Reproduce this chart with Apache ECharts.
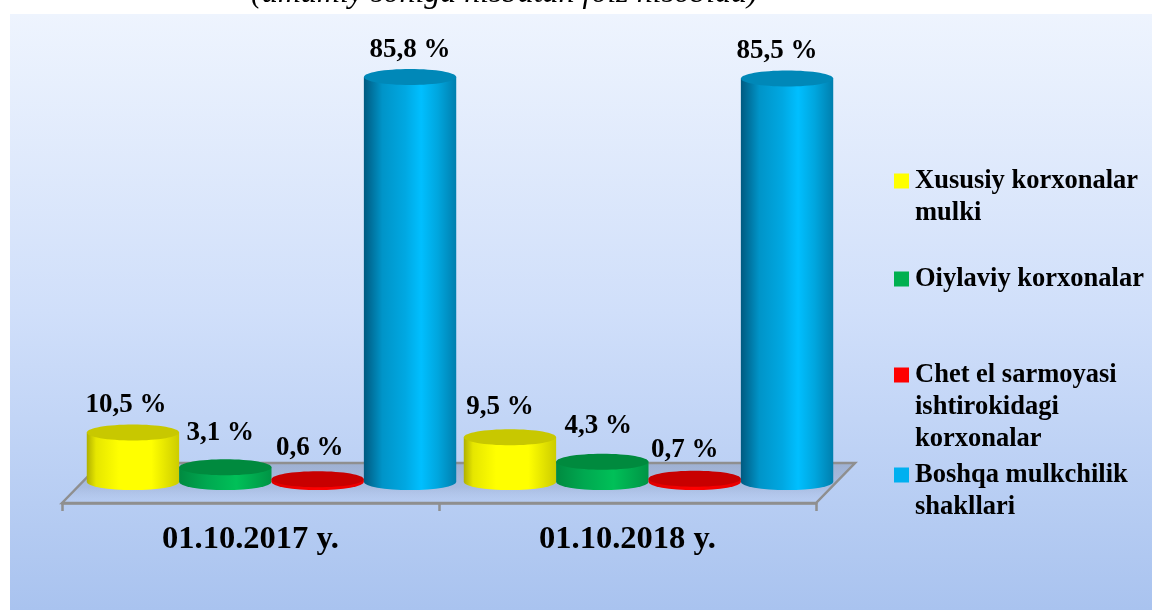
<!DOCTYPE html>
<html>
<head>
<meta charset="utf-8">
<style>
  html, body { margin: 0; background: #fff; }
  #chart { width: 1152px; height: 610px; }
</style>
<script src="https://cdn.jsdelivr.net/npm/echarts@6/dist/echarts.min.js"></script>
</head>
<body>
<div id="chart"></div>
<script>
const categories = ["01.10.2017 y.", "01.10.2018 y."];
const seriesNames = [
  "Xususiy korxonalar\nmulki",
  "Oiylaviy korxonalar",
  "Chet el sarmoyasi\nishtirokidagi\nkorxonalar",
  "Boshqa mulkchilik\nshakllari",
];
const xususiy = [10.5, 9.5];
const oilaviy = [3.1, 4.3];
const chetEl = [0.6, 0.7];
const boshqa = [85.8, 85.5];
const subtitle = "(umumiy soniga nisbatan foiz hisobida)";

const FONT = '"Liberation Serif", "Times New Roman", serif';
const AXIS_GRAY = "#8f8f8f";

// side gradient stops, top colour and legend colour for each cylinder series
const palette = [
  { side: [[0, "#b0b000"], [0.1, "#e6e600"], [0.35, "#ffff00"], [0.7, "#ffff00"], [1, "#cccc00"]], top: "#c8c800", key: "#ffff00" },
  { side: [[0, "#008a40"], [0.3, "#00a850"], [0.62, "#00c058"], [1, "#009445"]], top: "#008a3e", key: "#00b050" },
  { side: [[0, "#e00000"], [0.5, "#ff0000"], [1, "#e80000"]], top: "#c80000", key: "#ff0000" },
  { side: [[0, "#005a80"], [0.2, "#0094c8"], [0.45, "#00a8e2"], [0.62, "#00bfff"], [0.8, "#00a6de"], [1, "#007fae"]], top: "#0088b8", key: "#00b0f0" },
];
// hand placement of the value labels, the original was not regular
const labelNudge = [
  [[-7, 5], [-10, 2]],
  [[-5, -2], [-4, -4]],
  [[-8, 1], [-10, 3]],
  [[0, 5], [-10, 5]],
];
// legend keys sit on the first text line, so the icon box grows with the line count
const keyIcon = (lines) =>
  "path://M0 0H15V15H0Z M0 " + (15 + (lines - 1) * 32) + "H15";
const legendTops = [165, 263, 359, 459];

function cylinderRender(index) {
  return function (params, api) {
    const cat = api.value(0);
    const val = api.value(1);
    const base = api.coord([cat, 0]);
    const topPt = api.coord([cat, val]);
    const band = api.size([1, 0])[0];
    const slot = band * 0.245;
    const rx = slot / 2;
    const ry = 8;
    const cx = base[0] + 21 + (index - 1.5) * slot;
    const c = palette[index];
    const side = {
      type: "linear", x: 0, y: 0, x2: 1, y2: 0,
      colorStops: c.side.map((s) => ({ offset: s[0], color: s[1] })),
    };
    const nudge = labelNudge[index][cat];
    return {
      type: "group",
      children: [
        {
          type: "path",
          shape: {
            pathData:
              "M" + (cx - rx) + " " + topPt[1] +
              "L" + (cx - rx) + " " + base[1] +
              "A" + rx + " " + ry + " 0 0 0 " + (cx + rx) + " " + base[1] +
              "L" + (cx + rx) + " " + topPt[1] + "Z",
            layout: "cover",
          },
          style: { fill: side },
        },
        {
          type: "ellipse",
          shape: { cx: cx, cy: topPt[1], rx: rx, ry: ry },
          style: { fill: c.top },
        },
        {
          type: "text",
          style: {
            text: String(val).replace(".", ",") + " %",
            x: cx + nudge[0],
            y: topPt[1] - 32 + nudge[1],
            align: "center",
            verticalAlign: "middle",
            fill: "#000",
            font: "bold 27px " + FONT,
          },
        },
      ],
    };
  };
}

// gray floor under the cylinders, follows the grid rectangle
function floorRender(params, api) {
  const g = params.coordSys;
  const front = g.y + g.height + 21;
  const back = g.y + g.height - 19;
  const depth = 39;
  return {
    type: "polygon",
    shape: {
      points: [
        [g.x, front],
        [g.x + depth, back],
        [g.x + g.width + depth, back],
        [g.x + g.width, front],
      ],
    },
    style: {
      fill: {
        type: "linear", x: 0, y: 0, x2: 0, y2: 1,
        colorStops: [
          { offset: 0, color: "rgba(120,135,165,0.45)" },
          { offset: 0.6, color: "rgba(130,145,180,0.3)" },
          { offset: 1, color: "rgba(180,195,230,0.05)" },
        ],
      },
      stroke: AXIS_GRAY,
      lineWidth: 2.5,
    },
  };
}

const values = [xususiy, oilaviy, chetEl, boshqa];

const option = {
  animation: false,
  backgroundColor: "#fff",
  title: {
    text: subtitle,
    left: 246,
    top: -27,
    textStyle: { fontFamily: FONT, fontStyle: "italic", fontWeight: "normal", fontSize: 32, color: "#000" },
  },
  graphic: [
    {
      type: "rect",
      z: -1,
      silent: true,
      shape: { x: 10, y: 14, width: 1142, height: 596 },
      style: {
        fill: {
          type: "linear", x: 0, y: 0, x2: 0, y2: 1,
          colorStops: [
            { offset: 0, color: "#eef4fe" },
            { offset: 0.5, color: "#d0dffa" },
            { offset: 1, color: "#a9c3ef" },
          ],
        },
      },
    },
  ],
  grid: { left: 62, right: 336, top: 10, bottom: 128 },
  xAxis: {
    type: "category",
    data: categories,
    offset: 21,
    axisLine: { show: true, onZero: false, lineStyle: { color: AXIS_GRAY, width: 2.5 } },
    axisTick: { show: true, length: 8, lineStyle: { color: AXIS_GRAY, width: 2.5 } },
    axisLabel: { margin: 20, color: "#000", fontFamily: FONT, fontWeight: "bold", fontSize: 32.5 },
  },
  yAxis: { type: "value", min: 0, max: 100, show: false },
  legend: seriesNames.map((name, i) => ({
    data: [name],
    left: 894,
    top: legendTops[i],
    orient: "vertical",
    selectedMode: false,
    itemWidth: 15,
    itemHeight: 15 + (name.split("\n").length - 1) * 32,
    icon: keyIcon(name.split("\n").length),
    itemGap: 0,
    padding: 0,
    textStyle: {
      fontFamily: FONT, fontWeight: "bold", fontSize: 26.5, color: "#000", lineHeight: 32, padding: [0, 0, 0, 1],
    },
  })),
  series: [
    {
      type: "custom",
      name: "floor",
      z: 1,
      silent: true,
      renderItem: floorRender,
      data: [[0, 0]],
      encode: { x: 0, y: 1 },
    },
  ].concat(
    seriesNames.map((name, i) => ({
      type: "custom",
      name: name,
      z: i === 3 ? 3 : 2,
      itemStyle: { color: palette[i].key },
      renderItem: cylinderRender(i),
      data: categories.map((c, k) => [k, values[i][k]]),
      encode: { x: 0, y: 1 },
    }))
  ),
};

const chart = echarts.init(document.getElementById("chart"));
chart.setOption(option);
window.onresize = chart.resize;
</script>
</body>
</html>
